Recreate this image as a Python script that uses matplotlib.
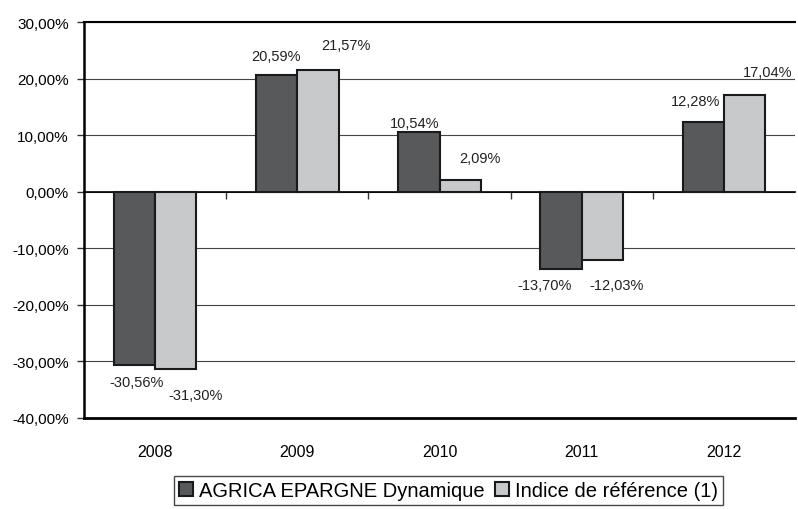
import numpy as np
import matplotlib
matplotlib.use("Agg")
import matplotlib.pyplot as plt

plt.rcParams['font.family'] = ['Liberation Sans', 'DejaVu Sans']

# data
years = ["2008", "2009", "2010", "2011", "2012"]
agrica = [-30.56, 20.59, 10.54, -13.70, 12.28]
indice = [-31.30, 21.57, 2.09, -12.03, 17.04]
series_names = ["AGRICA EPARGNE Dynamique", "Indice de référence (1)"]

# label offsets in pixels (dx, dy) as placed in the original
off_agrica = [(2, -17), (-1, 19), (-4, 9), (-17, -16), (-8, 21)]
off_indice = [(20, -26), (28, 25), (20, 22), (14, -25), (23, 23)]

def fmt(v):
    return ("%.2f%%" % v).replace(".", ",")

fig = plt.figure(figsize=(7.98, 5.10), dpi=100)
ax = fig.add_axes([84/798, 91/510, 711/798, 396/510])

x = np.arange(len(years))
w = 0.29
b1 = ax.bar(x - w/2, agrica, w, color="#58595b", edgecolor="#1a1a1a", linewidth=1.5,
            label=series_names[0], zorder=3)
b2 = ax.bar(x + w/2, indice, w, color="#c8c9cb", edgecolor="#1a1a1a", linewidth=1.5,
            label=series_names[1], zorder=3)

for bars, vals, offs in [(b1, agrica, off_agrica), (b2, indice, off_indice)]:
    for r, v, (dx, dy) in zip(bars, vals, offs):
        ax.annotate(fmt(v), (r.get_x() + r.get_width()/2, v), xytext=(dx, dy),
                    textcoords="offset pixels", ha="center", va="center",
                    fontsize=10.5, color="#222222")

ax.set_xlim(-0.5, len(years) - 0.5)
ax.set_ylim(-40, 30)
ax.set_yticks(np.arange(-40, 31, 10))
ax.set_yticklabels([fmt(v) for v in np.arange(-40, 31, 10)], fontsize=11)
ax.grid(axis="y", color="#444444", linewidth=0.8, zorder=0)
ax.set_axisbelow(True)

# zero axis with ticks between categories
ax.spines['bottom'].set_position(('data', 0))
ax.spines['bottom'].set_linewidth(1.2)
ax.set_xticks(np.arange(0.5, len(years) - 0.5, 1))
ax.set_xticklabels([])
ax.tick_params(axis="x", direction="out", length=5, width=1, color="#333333")
ax.tick_params(axis="y", direction="out", length=5, width=1, pad=6, color="#333333")
ax.spines['right'].set_visible(False)
ax.spines['top'].set_linewidth(1.5)
ax.spines['left'].set_linewidth(1.8)

# category labels along the bottom border
sec = ax.secondary_xaxis(0.0)
sec.set_xticks(x)
sec.set_xticklabels(years, fontsize=11.5)
sec.tick_params(length=0, pad=19)
sec.spines['bottom'].set_linewidth(2)

leg = fig.legend(handles=[b1, b2], loc="center", bbox_to_anchor=(0.562, 0.037),
                 ncol=2, fontsize=14.5, frameon=True, fancybox=False,
                 edgecolor="#1a1a1a", handlelength=0.7, handleheight=0.7,
                 handletextpad=0.3, columnspacing=0.5, borderpad=0.25)
leg.get_frame().set_linewidth(1.0)

plt.savefig("out.png", dpi=100)
